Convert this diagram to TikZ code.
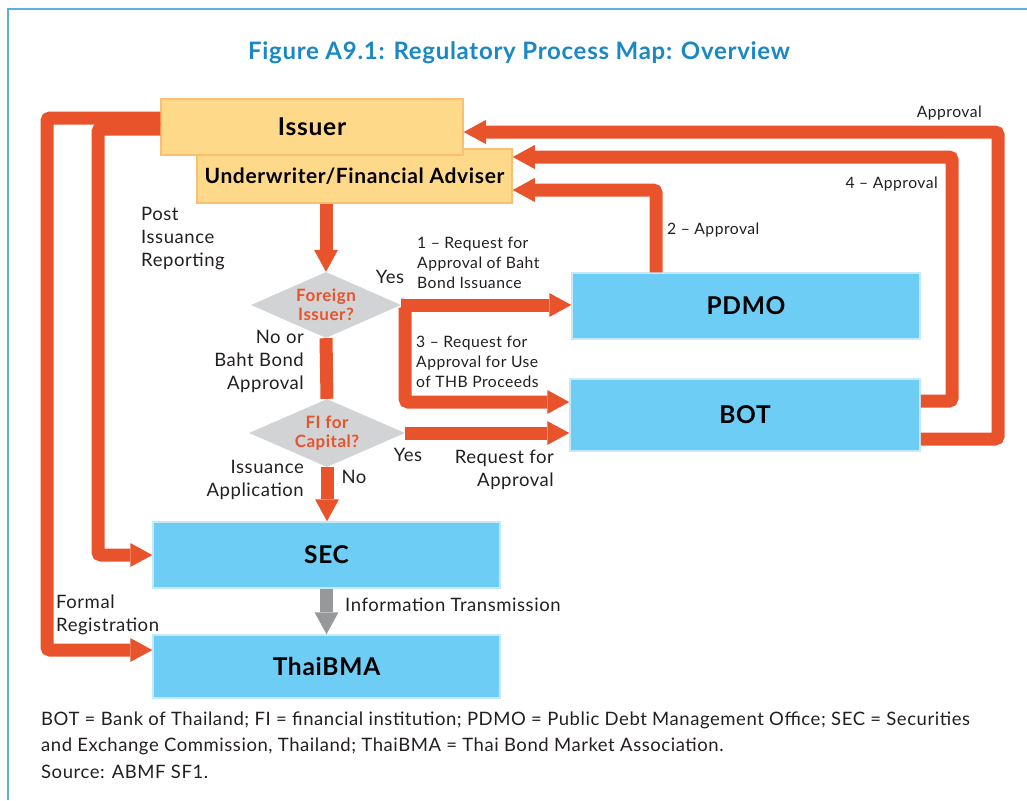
\documentclass[tikz,border=0pt]{standalone}
\usepackage{fontspec}
\setmainfont{Lato}[LetterSpace=3]
\usetikzlibrary{arrows.meta,positioning,calc,shapes.geometric}

\definecolor{adbred}{HTML}{E8532B}
\definecolor{adbblue}{HTML}{6DCDF5}
\definecolor{adbblueedge}{HTML}{C6E9F8}
\definecolor{adbyellow}{HTML}{FFD98A}
\definecolor{adbyellowedge}{HTML}{FBBF72}
\definecolor{adbgray}{HTML}{D2D3D5}
\definecolor{adbarrowgray}{HTML}{97989A}
\definecolor{adbtitle}{HTML}{1A88C4}
\definecolor{adbframe}{HTML}{5BAFDD}
\definecolor{adbtext}{HTML}{231F20}

\begin{document}
\begin{tikzpicture}[x=1pt,y=-1pt]
        \tikzstyle{every node}=[font=\fontsize{18.5}{23}\selectfont,text=adbtext]
        \tikzstyle{lbl}=[inner sep=0pt]
        \tikzstyle{lbls}=[inner sep=0pt,font=\fontsize{15.7}{20}\selectfont]
        \tikzstyle{bluebox}=[fill=adbblue,draw=adbblueedge,line width=1.5pt,inner sep=0pt,font=\bfseries\fontsize{24.5}{28}\selectfont,text=black]
        \tikzstyle{yellowbox}=[fill=adbyellow,draw=adbyellowedge,line width=1.5pt,inner sep=0pt,text=black]
        \tikzstyle{decision}=[diamond,aspect=2.3,fill=adbgray,inner sep=0pt,align=center,text=adbred,font=\bfseries\fontsize{17}{19}\selectfont]
        \tikzstyle{flow}=[draw=adbred,line width=13pt,rounded corners=3pt,-{Triangle[length=22pt,width=24pt,line width=0pt]}]
        \tikzstyle{flowline}=[draw=adbred,line width=13pt]
        \tikzstyle{infoflow}=[draw=adbarrowgray,line width=13pt,-{Triangle[length=22pt,width=24pt,line width=0pt]}]

        \useasboundingbox (0,0) rectangle (1027,800);

        %%% Frame and title
        \draw[adbframe,line width=1.5pt] (8,800) -- (8,9) -- (1027,9);
        \node[font=\bfseries\fontsize{24}{28}\selectfont,text=adbtitle] (title) at (519,53) {Figure A9.1: Regulatory Process Map: Overview};

        %%% Issuer side
        \node[yellowbox,minimum width=315pt,minimum height=54pt,font=\bfseries\fontsize{21}{24}\selectfont] (adviser) at (354.5,176) {Underwriter/Financial Adviser};
        \node[yellowbox,minimum width=302pt,minimum height=56pt,font=\bfseries\fontsize{24.5}{28}\selectfont] (issuer) at (312,127) {Issuer};

        \node[decision,minimum width=150pt,minimum height=66pt] (foreign) at (326,305) {Foreign\\Issuer?};
        \node[decision,minimum width=156pt,minimum height=68pt] (ficap) at (327,433) {FI for\\Capital?};

        %%% Regulators
        \node[bluebox,minimum width=348pt,minimum height=66pt] (pdmo) at (746,306) {PDMO};
        \node[bluebox,minimum width=350pt,minimum height=72pt] (bot) at (745,415) {BOT};
        \node[bluebox,minimum width=347pt,minimum height=66pt] (sec) at (326.5,555) {SEC};
        \node[bluebox,minimum width=347pt,minimum height=63pt] (thaibma) at (326.5,666.5) {ThaiBMA};

        %%% Flows
        \draw[flow] (adviser.south -| foreign.north) -- (foreign.north);
        \draw[flowline] (foreign.south) -- (ficap.north);
        \draw[flow] (ficap.south) -- (ficap.south |- sec.north);
        \draw[flow] (foreign.east) -- (foreign.east -| pdmo.west);
        \draw[flow] (foreign.east) -- ++(4,0) |- ($(bot.west)+(0,-13)$);
        \draw[flow] (ficap.east) -- (ficap.east -| bot.west);
        \draw[flow] ($(pdmo.north)+(-90,0)$) |- ($(adviser.east)+(0,14)$);
        \draw[flow] ($(bot.east)+(0,-14)$) -| (952,157) -- ($(adviser.east)+(0,-19)$);
        \draw[flow] ($(bot.east)+(0,24)$) -| (998,132) -- ($(issuer.east)+(0,5)$);
        \draw[flow] ($(issuer.west)+(0,-9)$) -| (47,650) -- ($(thaibma.west)+(0,-16.5)$);
        \draw[flow] ($(issuer.west)+(0,2)$) -| (98,555) -- (sec.west);
        \draw[infoflow] (sec.south) -- (thaibma.north);

        %%% Labels
        \node[lbls,anchor=east] (apprtop) at (982,113) {Approval};
        \node[lbls,anchor=east] (appr4) at (938,184) {4 – Approval};
        \node[lbls,anchor=west] (appr2) at (667,230) {2 – Approval};
        \node[lbl,anchor=west,align=left] (postlbl) at (141,239) {Post\\Issuance\\Reporting};
        \node[lbls,anchor=west,align=left] (req1) at (417,263) {1 – Request for\\Approval of Baht\\Bond Issuance};
        \node[lbl] (yes1) at (390,277) {Yes};
        \node[lbl,anchor=east,align=right] (noor) at (304,361) {No or\\Baht Bond\\Approval};
        \node[lbls,anchor=west,align=left] (req3) at (416,362) {3 – Request for\\Approval for Use\\of THB Proceeds};
        \node[lbl] (yes2) at (408,455) {Yes};
        \node[lbl,anchor=east,align=right] (reqlbl) at (554,470) {Request for\\Approval};
        \node[lbl,anchor=east,align=right] (applbl) at (304,480) {Issuance\\Application};
        \node[lbl] (no2) at (354,477) {No};
        \node[lbl,anchor=west,align=left] (reglbl) at (56,615) {Formal\\Registration};
        \node[lbl,anchor=west] (infolbl) at (345,605) {Information Transmission};

        %%% Notes
        \node[lbl,anchor=west,align=left,font=\fontsize{18.5}{26.5}\selectfont] (notes) at (41,745) {BOT = Bank of Thailand; FI = financial institution; PDMO = Public Debt Management Office; SEC = Securities\\and Exchange Commission, Thailand; ThaiBMA = Thai Bond Market Association.\\Source: ABMF SF1.};
\end{tikzpicture}
\end{document}
